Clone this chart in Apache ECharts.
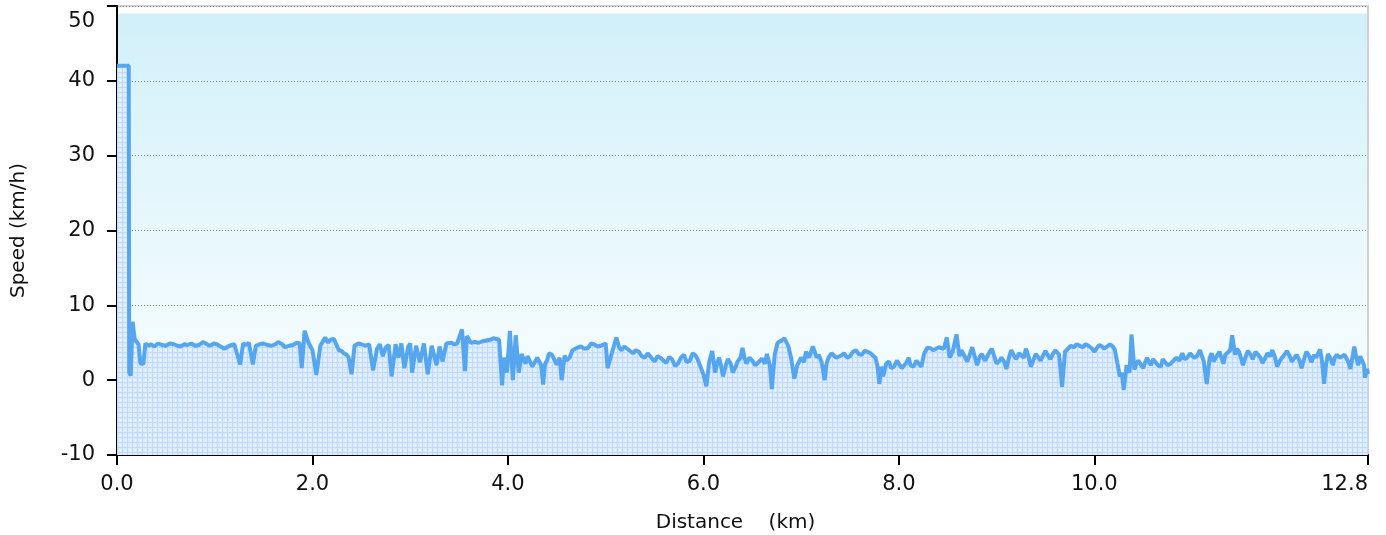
<!DOCTYPE html>
<html>
<head>
<meta charset="utf-8">
<script src="https://cdn.jsdelivr.net/npm/echarts@6/dist/echarts.min.js"></script>
<style>
html,body{margin:0;padding:0;background:#fff;}
#chart{width:1386px;height:535px;}
</style>
</head>
<body>
<div id="chart"></div>
<script>
const distance = [
0.00,0.12,0.125,0.14,0.16,0.18,0.22,0.24,0.27,0.29,
0.32,0.35,0.38,0.42,0.46,0.50,0.54,0.58,0.62,0.65,
0.69,0.72,0.76,0.80,0.84,0.88,0.92,0.95,0.99,1.02,
1.06,1.10,1.15,1.20,1.26,1.29,1.32,1.35,1.39,1.42,
1.46,1.50,1.54,1.58,1.62,1.65,1.69,1.72,1.76,1.80,
1.84,1.87,1.89,1.92,1.96,2.00,2.04,2.08,2.13,2.16,
2.18,2.22,2.25,2.27,2.30,2.32,2.35,2.37,2.40,2.43,
2.47,2.50,2.54,2.58,2.62,2.66,2.69,2.72,2.75,2.78,
2.81,2.85,2.88,2.91,2.94,2.98,3.00,3.02,3.06,3.10,
3.14,3.18,3.22,3.27,3.30,3.33,3.37,3.42,3.45,3.48,
3.53,3.56,3.58,3.62,3.66,3.70,3.74,3.78,3.82,3.85,
3.88,3.91,3.94,3.96,3.99,4.02,4.05,4.08,4.11,4.14,
4.16,4.18,4.20,4.22,4.25,4.27,4.30,4.32,4.34,4.36,
4.38,4.40,4.42,4.45,4.48,4.50,4.53,4.55,4.58,4.60,
4.63,4.66,4.68,4.72,4.75,4.78,4.82,4.85,4.88,4.92,
4.95,5.00,5.02,5.06,5.11,5.14,5.16,5.19,5.22,5.25,
5.28,5.31,5.34,5.37,5.40,5.43,5.45,5.48,5.50,5.53,
5.56,5.59,5.62,5.65,5.68,5.71,5.74,5.77,5.80,5.83,
5.86,5.89,5.92,5.95,5.97,6.00,6.03,6.06,6.09,6.12,
6.14,6.16,6.18,6.20,6.23,6.25,6.28,6.30,6.33,6.35,
6.38,6.40,6.42,6.44,6.47,6.50,6.53,6.55,6.58,6.60,
6.63,6.65,6.68,6.70,6.73,6.76,6.80,6.83,6.87,6.90,
6.93,6.96,7.00,7.03,7.05,7.08,7.10,7.12,7.14,7.16,
7.18,7.21,7.24,7.26,7.28,7.31,7.33,7.36,7.38,7.41,
7.44,7.47,7.50,7.53,7.56,7.59,7.62,7.65,7.68,7.71,
7.73,7.76,7.78,7.80,7.82,7.84,7.87,7.90,7.92,7.95,
7.98,8.00,8.03,8.05,8.08,8.10,8.12,8.15,8.18,8.20,
8.23,8.26,8.29,8.32,8.35,8.38,8.41,8.43,8.46,8.49,
8.52,8.55,8.59,8.62,8.64,8.66,8.68,8.70,8.73,8.75,
8.78,8.80,8.83,8.85,8.88,8.90,8.93,8.95,8.98,9.00,
9.03,9.05,9.08,9.10,9.13,9.15,9.18,9.20,9.23,9.25,
9.28,9.30,9.33,9.35,9.38,9.40,9.43,9.45,9.48,9.50,
9.53,9.55,9.58,9.60,9.64,9.67,9.70,9.73,9.76,9.79,
9.82,9.85,9.88,9.91,9.94,9.97,10.00,10.03,10.05,10.08,
10.10,10.13,10.16,10.19,10.21,10.24,10.26,10.28,10.30,10.33,
10.36,10.38,10.41,10.43,10.45,10.48,10.50,10.52,10.54,10.56,
10.58,10.60,10.62,10.65,10.68,10.70,10.72,10.75,10.78,10.81,
10.84,10.87,10.90,10.92,10.95,10.98,11.00,11.02,11.05,11.08,
11.10,11.12,11.15,11.18,11.20,11.22,11.25,11.28,11.30,11.32,
11.34,11.36,11.39,11.41,11.44,11.46,11.48,11.50,11.52,11.55,
11.57,11.60,11.62,11.65,11.67,11.70,11.72,11.75,11.77,11.80,
11.82,11.85,11.87,11.90,11.92,11.95,11.97,12.00,12.02,12.05,
12.07,12.10,12.12,12.15,12.17,12.20,12.22,12.25,12.27,12.29,
12.31,12.33,12.35,12.37,12.39,12.42,12.44,12.46,12.48,12.51,
12.53,12.56,12.58,12.60,12.62,12.64,12.66,12.68,12.70,12.72,
12.74,12.76,12.77,12.79,12.80];
const speed = [
42,42,1.0,0.6,7.8,5.5,4.8,2.2,2.2,4.9,
4.6,4.8,4.5,4.9,4.7,4.6,4.9,4.8,4.6,4.5,
4.8,4.7,4.9,4.6,4.7,5.1,4.8,4.6,4.9,4.8,
4.5,4.2,4.6,4.8,2.1,4.9,4.7,5.0,2.1,4.6,
4.8,4.9,4.7,4.6,4.8,5.1,4.8,4.4,4.6,4.7,
5.0,4.9,1.6,6.6,5.0,4.0,0.7,4.6,5.7,5.0,
5.4,5.5,4.6,4.0,3.9,3.6,3.4,3.0,0.8,4.6,
4.9,4.8,4.6,4.8,1.3,4.2,4.8,3.2,4.4,4.7,
0.5,4.8,3.0,4.9,1.6,4.5,4.9,1.0,4.6,2.4,
4.9,0.8,4.6,2.0,4.5,2.5,4.9,5.0,4.8,4.9,
6.8,1.2,5.9,5.0,5.1,5.0,5.2,5.3,5.4,5.6,
5.5,5.4,-0.7,3.0,1.0,6.6,0.0,6.0,1.0,3.5,
2.8,2.2,3.2,3.0,1.8,2.3,3.0,2.8,2.0,-0.6,
2.2,2.6,3.6,3.4,2.6,2.1,3.0,0.0,3.3,2.6,
3.0,4.0,3.8,4.4,4.5,4.2,4.3,4.9,4.8,4.5,
4.6,4.9,1.6,3.5,5.7,4.3,4.0,4.5,4.2,3.9,
3.6,4.0,3.8,3.2,3.0,3.6,3.4,2.8,2.5,3.2,
3.0,2.6,2.3,3.1,2.8,1.9,2.2,3.0,3.4,2.4,
2.6,3.6,3.3,2.5,1.8,0.8,-0.8,2.5,3.9,1.0,
2.2,3.0,2.0,0.5,2.0,2.8,2.2,1.0,1.8,2.5,
3.0,4.3,3.0,2.2,3.0,2.6,2.0,1.8,2.6,2.9,
2.2,3.5,2.0,-1.2,3.5,5.0,5.3,5.6,4.5,2.8,
0.2,2.0,3.0,2.4,3.8,3.0,3.2,4.5,4.3,3.0,
3.4,2.4,0.0,2.2,3.0,3.6,3.4,3.0,2.9,3.3,
3.6,3.0,3.2,3.8,4.0,3.5,3.4,3.9,3.8,3.6,
3.6,3.0,2.0,-0.5,1.8,0.5,2.2,2.5,1.6,1.8,
2.6,2.8,1.6,1.6,2.4,3.0,2.0,1.8,2.6,2.4,
1.8,3.6,4.3,4.3,4.0,4.2,4.4,4.5,4.2,5.7,
3.0,3.8,6.1,3.2,4.0,3.8,3.0,2.5,3.6,4.4,
3.0,2.0,3.2,3.5,2.6,2.8,3.8,4.2,3.0,2.2,
2.6,3.0,2.4,1.5,3.2,4.0,3.2,2.8,3.6,3.4,
3.0,4.2,3.0,1.8,2.8,3.5,3.0,2.6,3.4,3.9,
3.2,2.8,3.6,4.0,3.4,-0.9,3.8,4.2,4.6,4.4,
4.8,4.6,4.4,4.8,4.6,4.3,3.8,4.4,4.7,4.5,
4.2,4.5,4.8,4.5,4.0,2.0,0.5,1.0,-1.3,2.0,
1.0,6.1,1.4,2.2,2.6,2.0,1.6,2.4,3.0,2.4,
2.0,2.8,2.5,2.0,1.8,2.8,2.6,2.0,2.2,2.6,
3.0,2.6,3.6,2.8,3.0,3.6,3.8,3.0,3.2,4.0,
3.9,2.5,-0.5,3.0,3.6,2.5,3.2,3.8,3.0,2.2,
3.4,3.5,4.0,6.0,3.4,4.2,3.8,3.0,2.0,3.2,
3.9,3.4,2.8,3.8,3.5,3.0,2.3,3.0,3.6,3.2,
4.0,3.0,1.8,2.6,3.0,3.5,3.9,3.2,2.5,3.0,
3.4,2.6,1.6,3.0,3.8,3.2,2.4,3.4,3.0,3.6,
4.1,2.5,-0.5,2.0,3.5,2.8,2.0,3.0,3.4,3.0,
2.8,3.4,3.2,2.4,1.5,3.0,4.5,3.0,2.0,3.2,
3.0,2.0,0.3,1.5,0.8];
const xTicks = [0, 2, 4, 6, 8, 10, 12.8];
const yTicks = [-10, 0, 10, 20, 30, 40, 50];

const tile = document.createElement('canvas');
tile.width = 5; tile.height = 5;
const tc = tile.getContext('2d');
tc.fillStyle = '#dcecfd'; tc.fillRect(0, 0, 5, 5);
tc.fillStyle = '#bfdafa'; tc.fillRect(0, 2, 5, 1); tc.fillRect(2, 0, 1, 5);
tc.fillStyle = '#ffffff'; tc.fillRect(0, 0, 1, 1);

const chart = echarts.init(document.getElementById('chart'));
const font = 'DejaVu Sans';
chart.setOption({
  animation: false,
  grid: {
    left: 117, right: 18, top: 6, bottom: 80,
    outerBoundsMode: 'none',
    containLabel: false,
    show: true,
    borderColor: '#d0d0d0', borderWidth: 2,
    backgroundColor: {
      type: 'linear', x: 0, y: 0, x2: 0, y2: 1,
      colorStops: [
        {offset: 0, color: '#ffffff'},
        {offset: 0.018, color: '#ffffff'},
        {offset: 0.02, color: '#d2f0fa'},
        {offset: 0.7, color: '#f1fbfe'},
        {offset: 1, color: '#f5fcff'}
      ]
    }
  },
  xAxis: {
    type: 'value', min: 0, max: 12.8,
    name: 'Distance    (km)', nameLocation: 'middle', nameGap: 58,
    nameTextStyle: {fontFamily: font, fontSize: 20, color: '#111', padding: [0, 14, 0, 0]},
    axisLine: {onZero: false, lineStyle: {color: '#000', width: 2}},
    axisTick: {show: true, length: 10, lineStyle: {color: '#000', width: 2}, customValues: xTicks},
    axisLabel: {customValues: xTicks, fontFamily: font, fontSize: 21, color: '#111', margin: 19,
      alignMaxLabel: 'right', formatter: v => v.toFixed(1)},
    splitLine: {show: false}
  },
  yAxis: {
    type: 'value', min: -10, max: 50, interval: 10,
    name: 'Speed (km/h)', nameLocation: 'middle', nameGap: 88,
    nameTextStyle: {fontFamily: font, fontSize: 20, color: '#111'},
    axisLine: {show: true, lineStyle: {color: '#000', width: 2}},
    axisTick: {show: true, length: 10, lineStyle: {color: '#000', width: 2}},
    axisLabel: {fontFamily: font, fontSize: 21, color: '#111', margin: 22,
      formatter: v => v === yTicks[yTicks.length - 1] ? '{top|' + v + '}' : String(v),
      rich: {top: {fontFamily: font, fontSize: 21, color: '#111', padding: [32, 0, 0, 0]}}},
    splitLine: {show: true, lineStyle: {color: '#888', width: 1, type: [1, 2]}}
  },
  series: [{
    type: 'line',
    data: distance.map((d, i) => [d, speed[i]]),
    showSymbol: false,
    lineStyle: {color: '#55a5ef', width: 4},
    areaStyle: {color: {image: tile, repeat: 'repeat'}, opacity: 1, origin: 'start'}
  }]
});
</script>
</body>
</html>
